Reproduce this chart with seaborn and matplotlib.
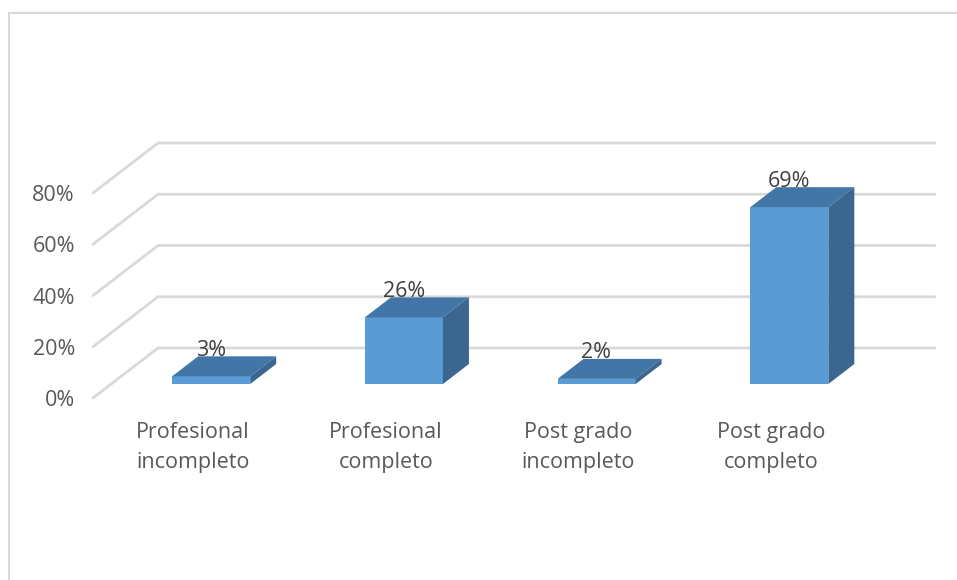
import matplotlib
matplotlib.use("Agg")
import matplotlib.pyplot as plt
from matplotlib.patches import Polygon
from matplotlib.lines import Line2D
from matplotlib.transforms import ScaledTranslation
import seaborn as sns

categories = ["Profesional\nincompleto", "Profesional\ncompleto",
              "Post grado\nincompleto", "Post grado\ncompleto"]
values = [3, 26, 2, 69]
y_ticks = [0, 20, 40, 60, 80]

FRONT = "#5b9bd5"
TOP = "#4276a6"
SIDE = "#3a6690"
GRID = "#d9d9d9"
FS = 15.5

sns.set_theme(style="white")
plt.rcParams["font.family"] = ["Open Sans", "DejaVu Sans"]

DPI = 100
fig = plt.figure(figsize=(9.57, 5.80), dpi=DPI)
fig.patch.set_facecolor("white")

# plot area = front plane of the 3D box
ax = fig.add_axes([93 / 957, 182 / 580, 842 / 957, 205 / 580])
XMIN, XMAX = -0.5189, 3.8505

# depth vector of the whole box (data units per full depth)
DX, DY = 0.3373, 19.51
# bar front plane and bar depth as fractions of the box depth
ZF, ZD = 0.28, 0.40

sns.barplot(x=categories, y=values, width=0.405, color=FRONT, saturation=1,
            edgecolor="none", ax=ax, zorder=3)
ax.set_xlim(XMIN, XMAX)
ax.set_ylim(0, 80)
for s in ax.spines.values():
    s.set_visible(False)
ax.set_xlabel("")
ax.set_ylabel("")
ax.set_yticks(y_ticks)
ax.set_yticklabels([f"{t}%" for t in y_ticks])
ax.tick_params(axis="y", length=0, pad=13, labelsize=FS, labelcolor="#595959")
ax.tick_params(axis="x", length=0, pad=17.5, labelsize=FS, labelcolor="#595959")
for lbl in ax.get_xticklabels():
    lbl.set_linespacing(1.55)
ax.patch.set_alpha(0)

# back wall: diagonals on the side wall plus horizontal gridlines
for t in y_ticks:
    ax.add_line(Line2D([XMIN, XMIN + DX, XMAX], [t, t + DY, t + DY],
                       color=GRID, lw=2.0, clip_on=False, zorder=1,
                       solid_joinstyle="miter"))

# shift bars to their depth plane and add top and side faces
shift = ScaledTranslation(ZF * DX * 192.7 / DPI, ZF * DY * 2.5625 / DPI,
                          fig.dpi_scale_trans)
tr = ax.transData + shift
ddx, ddy = ZD * DX, ZD * DY
for p in ax.patches:
    x0, w, h = p.get_x(), p.get_width(), p.get_height()
    p.set_transform(tr)
    p.set_clip_on(False)
    top = Polygon([(x0, h), (x0 + w, h), (x0 + w + ddx, h + ddy), (x0 + ddx, h + ddy)],
                  closed=True, facecolor=TOP, edgecolor="none", transform=tr,
                  clip_on=False, zorder=3)
    side = Polygon([(x0 + w, 0), (x0 + w, h), (x0 + w + ddx, h + ddy), (x0 + w + ddx, ddy)],
                   closed=True, facecolor=SIDE, edgecolor="none", transform=tr,
                   clip_on=False, zorder=3)
    ax.add_patch(top)
    ax.add_patch(side)

# value labels
for i, v in enumerate(values):
    ax.annotate(f"{v}%", xy=(i, v), xytext=(18 * 72 / DPI, 40 * 72 / DPI),
                textcoords="offset points", ha="center", va="center",
                fontsize=FS, color="#404040", zorder=5, annotation_clip=False)

# chart area border (top and left edges)
fig.add_artist(Line2D([8.5 / 957, 1.0], [1 - 12.5 / 580, 1 - 12.5 / 580],
                      transform=fig.transFigure, color=GRID, lw=1.5))
fig.add_artist(Line2D([8.5 / 957, 8.5 / 957], [1 - 12.5 / 580, 0.0],
                      transform=fig.transFigure, color=GRID, lw=1.5))

fig.savefig("out.png", dpi=DPI, facecolor="white")
